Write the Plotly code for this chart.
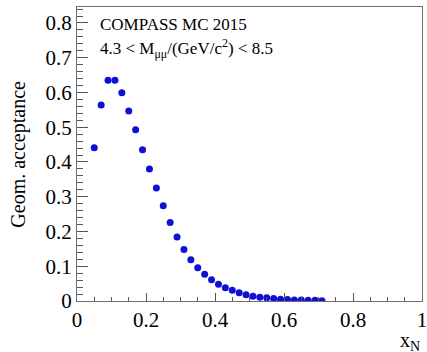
import plotly.graph_objects as go

x_n = [0.05, 0.07, 0.09, 0.11, 0.13, 0.15, 0.17, 0.19, 0.21, 0.23,
       0.25, 0.27, 0.29, 0.31, 0.33, 0.35, 0.37, 0.39, 0.41, 0.43,
       0.45, 0.47, 0.49, 0.51, 0.53, 0.55, 0.57, 0.59, 0.61, 0.63,
       0.65, 0.67, 0.69, 0.71]
acceptance = [0.441, 0.564, 0.635, 0.635, 0.599, 0.547, 0.493, 0.435, 0.380, 0.325,
              0.274, 0.226, 0.184, 0.148, 0.119, 0.096, 0.077, 0.061, 0.048, 0.038,
              0.031, 0.024, 0.018, 0.014, 0.011, 0.009, 0.007, 0.005, 0.004, 0.003,
              0.003, 0.002, 0.002, 0.001]

x_tickvals = [0, 0.2, 0.4, 0.6, 0.8, 1.0]
x_ticktext = ["0", "0.2", "0.4", "0.6", "0.8", "1"]
y_tickvals = [0, 0.1, 0.2, 0.3, 0.4, 0.5, 0.6, 0.7, 0.8]
y_ticktext = ["0", "0.1", "0.2", "0.3", "0.4", "0.5", "0.6", "0.7", "0.8"]

FONT = "Liberation Serif"

fig = go.Figure()
fig.add_trace(go.Scatter(
    x=x_n, y=acceptance, mode="markers",
    marker=dict(color="#0f0fd8", size=7, line=dict(width=0)),
    showlegend=False,
))

axis_common = dict(
    showgrid=False, zeroline=False, showline=True, mirror=True,
    automargin=False, ticklabeloverflow="allow",
    linecolor="#6e6e6e", linewidth=1, ticks="inside", tickcolor="#555",
    tickwidth=1, tickfont=dict(family=FONT, size=21, color="black"),
)

fig.update_xaxes(range=[0, 1], tickvals=x_tickvals, ticktext=x_ticktext,
                 ticklen=8,
                 minor=dict(dtick=0.05, tick0=0, ticks="inside", ticklen=4.5,
                            tickcolor="#555", tickwidth=1),
                 **axis_common)
fig.update_yaxes(range=[0, 0.846], tickvals=y_tickvals, ticktext=y_ticktext,
                 ticklen=11,
                 minor=dict(dtick=0.02, tick0=0, ticks="inside", ticklen=6,
                            tickcolor="#555", tickwidth=1),
                 **axis_common)

fig.add_annotation(xref="paper", yref="paper", x=-0.172, y=0.5,
                   xanchor="center", yanchor="middle", showarrow=False,
                   textangle=-90, text="Geom. acceptance",
                   font=dict(family=FONT, size=20, color="black"))
fig.add_annotation(xref="paper", yref="paper", x=1.0, y=-0.088,
                   xanchor="right", yanchor="top", showarrow=False,
                   text="x<sub>N</sub>",
                   font=dict(family=FONT, size=20, color="black"))
fig.add_annotation(xref="x", yref="y", x=0.062, y=0.795,
                   xanchor="left", yanchor="middle", showarrow=False,
                   text="COMPASS MC 2015",
                   font=dict(family=FONT, size=17, color="black"))
fig.add_annotation(xref="x", yref="y", x=0.062, y=0.728,
                   xanchor="left", yanchor="middle", showarrow=False,
                   text="4.3 &lt; M<sub>μμ</sub>/(GeV/c<sup>2</sup>) &lt; 8.5",
                   font=dict(family=FONT, size=17, color="black"))

fig.update_layout(
    width=427, height=352,
    margin=dict(l=76.5, r=4.7, t=7.3, b=51.3),
    paper_bgcolor="white", plot_bgcolor="white",
    font=dict(family=FONT, color="black"),
)

fig.write_html("out.html", config={"displayModeBar": False},
               post_script="document.body.style.margin='0';document.body.style.overflow='hidden';")
